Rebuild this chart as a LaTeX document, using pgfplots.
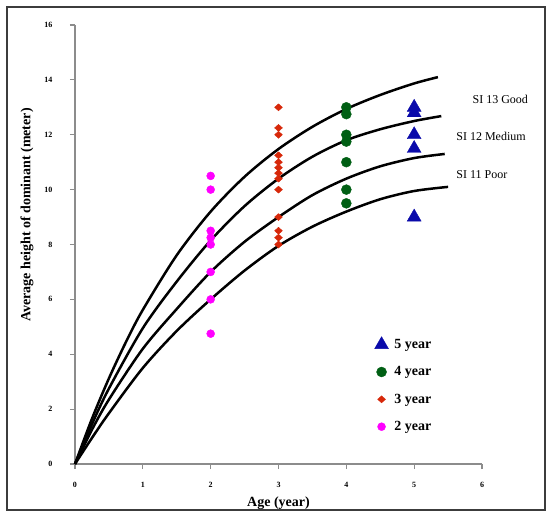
\documentclass[border=0pt]{standalone}
\usepackage{fontspec}
\setmainfont{Liberation Serif}
\usepackage{pgfplots}
\pgfplotsset{compat=1.18}

\definecolor{tri}{RGB}{10,10,170}
\definecolor{dgreen}{RGB}{0,95,20}
\definecolor{dred}{RGB}{215,40,10}
\definecolor{mag}{RGB}{255,0,255}
\definecolor{axgray}{RGB}{140,140,140}
\definecolor{framegray}{RGB}{60,60,60}

\begin{document}
\begin{tikzpicture}
\begin{axis}[
  scale only axis,
  width=407pt, height=439pt,
  xmin=0, xmax=6, ymin=0, ymax=16,
  xtick={0,...,6}, ytick={0,2,...,16},
  axis lines=left,
  axis line style={-, draw=axgray, line width=1.5pt},
  tick style={draw=axgray, line width=1.2pt},
  tick align=outside,
  major tick length=5pt,
  clip=false,
  /pgf/number format/assume math mode=true,
  ticklabel style={font=\fontsize{8}{9}\selectfont\bfseries},
  yticklabel style={xshift=-14pt},
  xticklabel style={yshift=-10pt},
  xlabel={Age (year)},
  ylabel={Average height of dominant (meter)},
  every axis x label/.style={at={(axis description cs:0.5,-0.089)}, anchor=center,
    font=\fontsize{14}{16}\selectfont\bfseries},
  every axis y label/.style={at={(axis description cs:-0.118,0.567)}, anchor=center, rotate=90,
    font=\fontsize{14}{16}\selectfont\bfseries},
  legend style={draw=none, fill=none, at={(axis cs:4.37,4.72)}, anchor=north west,
    font=\fontsize{14}{16}\selectfont\bfseries, row sep=12.6pt, column sep=4pt},
  legend cell align=left,
]

% site index curves
\addplot[forget plot, smooth, black, line width=2.5pt] coordinates {
  (0,0) (0.25,1.65) (0.5,3.12) (0.75,4.44) (1,5.62) (1.5,7.61) (2,9.2) (2.5,10.47)
  (3,11.48) (3.5,12.29) (4,12.94) (4.5,13.45) (5,13.87) (5.35,14.1)};
\addplot[forget plot, smooth, black, line width=2.5pt] coordinates {
  (0,0) (0.25,1.45) (0.5,2.75) (1,4.95) (1.5,6.65) (2,8.15) (2.5,9.4)
  (3,10.4) (3.5,11.2) (4,11.8) (4.5,12.2) (5,12.5) (5.4,12.68)};
\addplot[forget plot, smooth, black, line width=2.5pt] coordinates {
  (0,0) (0.25,1.25) (0.5,2.35) (1,4.2) (1.5,5.65) (2,7.0) (2.5,8.1)
  (3,9.0) (3.5,9.8) (4,10.4) (4.5,10.85) (5,11.15) (5.45,11.3)};
\addplot[forget plot, smooth, black, line width=2.5pt] coordinates {
  (0,0) (0.25,0.95) (0.5,1.85) (1,3.5) (1.5,4.85) (2,6.0) (2.5,7.05)
  (3,7.95) (3.5,8.65) (4,9.2) (4.5,9.65) (5,9.95) (5.5,10.1)};

% observed heights
\addplot[only marks, mark=triangle*, mark size=8pt, color=tri] coordinates {
  (5,13) (5,12.8) (5,12) (5,11.5) (5,9)};
\addlegendentry{5 year}
\addplot[only marks, mark=*, mark size=5pt, color=dgreen] coordinates {
  (4,13) (4,12.75) (4,12) (4,11.75) (4,11) (4,10) (4,9.5)};
\addlegendentry{4 year}
\addplot[only marks, mark=diamond*, mark size=3.5pt, mark options={xscale=1.5}, color=dred] coordinates {
  (3,13) (3,12.25) (3,12) (3,11.25) (3,11) (3,10.8) (3,10.6) (3,10.4) (3,10)
  (3,9) (3,8.5) (3,8.25) (3,8)};
\addlegendentry{3 year}
\addplot[only marks, mark=*, mark size=4pt, color=mag] coordinates {
  (2,10.5) (2,10) (2,8.5) (2,8.25) (2,8) (2,7) (2,6) (2,4.75)};
\addlegendentry{2 year}

\node[anchor=west, font=\fontsize{12}{14}\selectfont] at (axis cs:5.81,13.3) {SI 13 Good};
\node[anchor=west, font=\fontsize{12}{14}\selectfont] at (axis cs:5.57,11.93) {SI 12 Medium};
\node[anchor=west, font=\fontsize{12}{14}\selectfont] at (axis cs:5.57,10.55) {SI 11 Poor};

% outer frame and page size
\draw[framegray, line width=2pt] ([xshift=-68pt,yshift=-46pt]rel axis cs:0,0)
  rectangle ([xshift=63pt,yshift=18pt]rel axis cs:1,1);
\path ([xshift=-75pt,yshift=-50pt]rel axis cs:0,0)
  rectangle ([xshift=68pt,yshift=25pt]rel axis cs:1,1);
\end{axis}
\end{tikzpicture}
\end{document}
